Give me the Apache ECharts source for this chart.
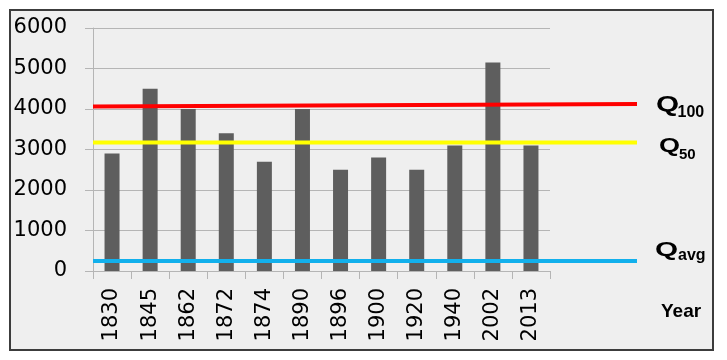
<!DOCTYPE html>
<html>
<head>
<meta charset="utf-8">
<script src="https://cdn.jsdelivr.net/npm/echarts@6/dist/echarts.min.js"></script>
<style>
html,body{margin:0;padding:0;background:#ffffff;}
#c{width:727px;height:360px;}
</style>
</head>
<body>
<div id="c"></div>
<script>
var categories = ['1830','1845','1862','1872','1874','1890','1896','1900','1920','1940','2002','2013'];
var values = [2900,4500,4000,3400,2700,4000,2500,2800,2500,3100,5150,3100];
var lineEnds = ['start','end'];
var q100 = [4060,4125];
var q50 = [3170,3170];
var qavg = [250,250];
var yMin = 0, yMax = 6000, yStep = 1000;

var chart = echarts.init(document.getElementById('c'), null, {renderer:'canvas'});
var gridColor = '#b5b5b5';
var lab = "'Liberation Sans', Arial, sans-serif";
var axisFont = "'DejaVu Sans', sans-serif";

function qText(x, y, size, sx, text) {
  return {type:'text', x:x, y:y, scaleX:sx, z:20,
    style:{text:text, fontFamily:lab, fontWeight:'bold', fontSize:size, fill:'#000', align:'left', verticalAlign:'middle'}};
}

var option = {
  backgroundColor:'#ffffff',
  animation:false,
  graphic:[
    {type:'rect', z:-10, shape:{x:10,y:10,width:703,height:340}, style:{fill:'#efefef', stroke:'#3c3c3c', lineWidth:2}},
    qText(656, 104.7, 22, 1.35, 'Q'),
    qText(677.5, 112.7, 16, 1, '100'),
    qText(659, 146.7, 20.5, 1.32, 'Q'),
    qText(679, 155, 15, 1, '50'),
    qText(655, 250, 20.5, 1.45, 'Q'),
    qText(678, 256, 16, 1, 'avg'),
    qText(661, 311.7, 19, 1, 'Year')
  ],
  grid:[
    {left:93, right:177, top:28, bottom:89},
    {left:93, right:90, top:28, bottom:89}
  ],
  xAxis:[
    {type:'category', gridIndex:0, data:categories, boundaryGap:true,
     axisLine:{show:true, lineStyle:{color:gridColor, width:1}},
     axisTick:{show:true, length:8, lineStyle:{color:gridColor}},
     axisLabel:{rotate:90, margin:17, fontFamily:axisFont, fontSize:21, color:'#000'}},
    {type:'category', gridIndex:1, data:lineEnds, boundaryGap:false, show:false}
  ],
  yAxis:[
    {type:'value', gridIndex:0, min:yMin, max:yMax, interval:yStep,
     axisLine:{show:true, lineStyle:{color:gridColor, width:1}},
     axisTick:{show:true, length:8, lineStyle:{color:gridColor}},
     splitLine:{show:true, lineStyle:{color:gridColor, width:1}},
     axisLabel:{margin:26, fontFamily:axisFont, fontSize:21, color:'#000',
       formatter:function(v){return String(v);}}},
    {type:'value', gridIndex:1, min:yMin, max:yMax, interval:yStep, show:false}
  ],
  series:[
    {type:'bar', xAxisIndex:0, yAxisIndex:0, data:values, barWidth:15, itemStyle:{color:'#5e5e5e'}, z:2},
    {type:'line', xAxisIndex:1, yAxisIndex:1, data:qavg, symbol:'none', lineStyle:{color:'#12b0ec', width:4, cap:'butt'}, z:5},
    {type:'line', xAxisIndex:1, yAxisIndex:1, data:q50, symbol:'none', lineStyle:{color:'#ffff00', width:4, cap:'butt'}, z:5},
    {type:'line', xAxisIndex:1, yAxisIndex:1, data:q100, symbol:'none', lineStyle:{color:'#ff0000', width:4, cap:'butt'}, z:5}
  ]
};
chart.setOption(option);
</script>
</body>
</html>
